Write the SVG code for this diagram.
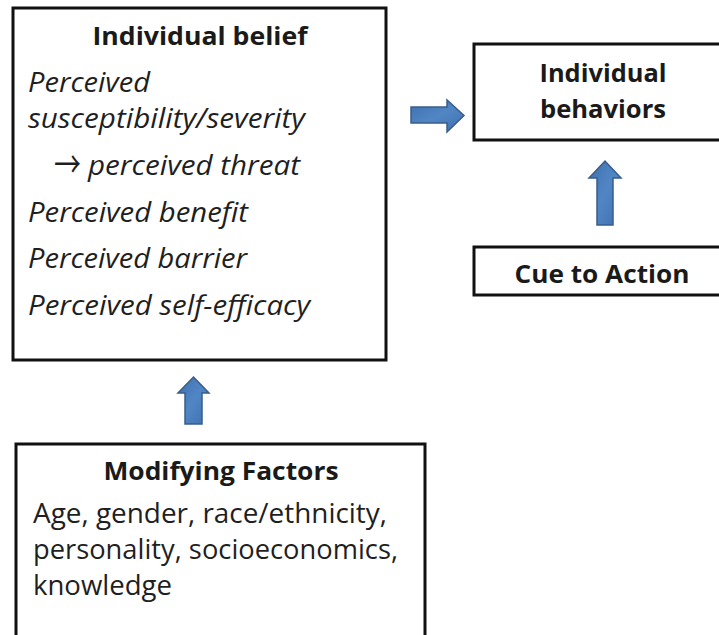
<svg xmlns="http://www.w3.org/2000/svg" width="719" height="635" viewBox="0 0 719 635">
  <style>
    .box { fill: #ffffff; stroke: #111111; stroke-width: 3; }
    .title { font-family: "Open Sans", "Liberation Sans", sans-serif; font-weight: bold; font-size: 25px; fill: #1a1a1a; }
    .item { font-family: "Open Sans", "Liberation Sans", sans-serif; font-style: italic; font-size: 28px; fill: #1f1f1f; }
    .plain { font-family: "Open Sans", "Liberation Sans", sans-serif; font-size: 27px; fill: #1f1f1f; }
    .sym { font-family: "Noto Sans CJK SC", "DejaVu Sans", sans-serif; font-size: 36px; fill: #1f1f1f; }
    .arrow { fill: url(#arrowFill); stroke: #385d8a; stroke-width: 1.5; stroke-linejoin: miter; }
  </style>
  <defs>
    <linearGradient id="arrowFill" x1="0" y1="0" x2="1" y2="1">
      <stop offset="0" stop-color="#3f6fae"/>
      <stop offset="0.5" stop-color="#5186c4"/>
      <stop offset="1" stop-color="#3f6fae"/>
    </linearGradient>
  </defs>
  <rect width="719" height="635" fill="#ffffff"/>

  <g id="individual-belief">
    <rect class="box" x="13" y="8" width="373" height="352"/>
    <text class="title" x="200" y="45" text-anchor="middle" textLength="215" lengthAdjust="spacingAndGlyphs">Individual  belief</text>
    <text class="item" x="28" y="92" textLength="122" lengthAdjust="spacingAndGlyphs">Perceived</text>
    <text class="item" x="28" y="128" textLength="277" lengthAdjust="spacingAndGlyphs">susceptibility/severity</text>
    <text class="sym" x="54" y="178" textLength="27" lengthAdjust="spacingAndGlyphs">→</text>
    <text class="item" x="88" y="175" textLength="212" lengthAdjust="spacingAndGlyphs">perceived threat</text>
    <text class="item" x="28" y="222" textLength="220" lengthAdjust="spacingAndGlyphs">Perceived benefit</text>
    <text class="item" x="28" y="268" textLength="219" lengthAdjust="spacingAndGlyphs">Perceived barrier</text>
    <text class="item" x="28" y="315" textLength="282" lengthAdjust="spacingAndGlyphs">Perceived self-efficacy</text>
  </g>

  <g id="individual-behaviors">
    <rect class="box" x="474" y="44" width="260" height="96"/>
    <text class="title" x="603" y="82" text-anchor="middle" textLength="127" lengthAdjust="spacingAndGlyphs">Individual</text>
    <text class="title" x="603" y="118" text-anchor="middle" textLength="126" lengthAdjust="spacingAndGlyphs">behaviors</text>
  </g>

  <g id="cue-to-action">
    <rect class="box" x="474" y="247" width="260" height="48"/>
    <text class="title" x="602" y="283" text-anchor="middle" textLength="175" lengthAdjust="spacingAndGlyphs">Cue to Action</text>
  </g>

  <g id="modifying-factors">
    <rect class="box" x="16" y="444" width="409" height="210"/>
    <text class="title" x="221" y="480" text-anchor="middle" textLength="235" lengthAdjust="spacingAndGlyphs">Modifying  Factors</text>
    <text class="plain" x="33" y="523" textLength="354" lengthAdjust="spacingAndGlyphs">Age, gender, race/ethnicity,</text>
    <text class="plain" x="33" y="559" textLength="365" lengthAdjust="spacingAndGlyphs">personality, socioeconomics,</text>
    <text class="plain" x="33" y="595" textLength="139" lengthAdjust="spacingAndGlyphs">knowledge</text>
  </g>

  <g id="connectors">
    <!-- belief to behaviors -->
    <polygon class="arrow" points="411,107 447,107 447,100 464,115.5 447,132 447,123 411,123"/>
    <!-- cue to behaviors -->
    <polygon class="arrow" points="597,225 597,178 589,178 605,161 621,178 613,178 613,225"/>
    <!-- modifying factors to belief -->
    <polygon class="arrow" points="185,424 185,393 178,393 193.5,377 209,393 202,393 202,424"/>
  </g>
</svg>
